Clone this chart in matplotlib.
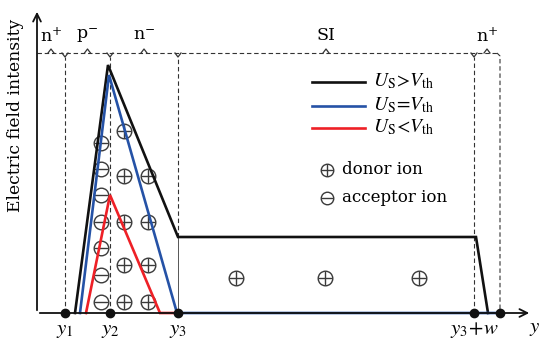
import matplotlib
matplotlib.use("Agg")
import matplotlib.pyplot as plt

plt.rcParams["font.family"] = ["DejaVu Serif"]
plt.rcParams["mathtext.fontset"] = "dejavuserif"

# Region boundaries along the device (arbitrary length units)
pos_y1, pos_y2, pos_y3, pos_y3w, pos_end = 28, 73, 141, 437, 463
tick_positions = [pos_y1, pos_y2, pos_y3, pos_y3w]
tick_labels = [r"$y_1$", r"$y_2$", r"$y_3$", r"$y_3\!+\!w$"]

# Electric field profiles (position, field)
above_x = [38, 71, 141, 439, 451]
above_e = [0, 248, 76, 76, 0]
equal_x = [43, 72, 140, 463]
equal_e = [0, 238, 0, 0]
below_x = [49, 73, 123, 141]
below_e = [0, 118, 0, 0]

# Region labels
region_names = [r"n$^{+}$", r"p$^{-}$", r"n$^{-}$", "SI", r"n$^{+}$"]
region_bounds = [0, pos_y1, pos_y2, pos_y3, pos_y3w, pos_end]

# Ion locations
acceptor_x = [64] * 7
acceptor_e = [170, 144, 118, 91, 65, 38, 11]
donor_x = [87, 87, 87, 87, 87, 111, 111, 111, 111, 199, 288, 382]
donor_e = [182, 137, 91, 48, 11, 137, 91, 48, 11, 35, 35, 35]

legend_labels = [r"$U_{\mathrm{S}}\!>\!V_{\mathrm{th}}$",
                 r"$U_{\mathrm{S}}\!=\!V_{\mathrm{th}}$",
                 r"$U_{\mathrm{S}}\!<\!V_{\mathrm{th}}$"]

BLACK = "#111111"
BLUE = "#2552a6"
RED = "#ee2026"
ION = "#3a3a3a"
DASH = "#333333"

fig = plt.figure(figsize=(5.41, 3.41), dpi=100)
ax = fig.add_axes([0, 0, 1, 1])
ax.set_xlim(-37, 504)
ax.set_ylim(-28, 313)
ax.axis("off")

brace_e = 260
dash_kw = dict(color=DASH, lw=0.8, ls=(0, (4, 2.5)))

# Dashed brace line and region boundaries
ax.plot([0, pos_end - 3], [brace_e, brace_e], **dash_kw)
ax.plot([pos_end - 3, pos_end, pos_end], [brace_e, brace_e - 3, 0], **dash_kw)
for xb in [pos_y1, pos_y2, pos_y3w]:
    ax.plot([xb, xb], [0, brace_e - 4], **dash_kw)
ax.plot([pos_y3, pos_y3], [76, brace_e - 4], **dash_kw)
ax.plot([pos_y3, pos_y3], [0, 76], color="#555555", lw=0.7)
for xb in [pos_y1, pos_y2, pos_y3, pos_y3w]:
    ax.plot([xb - 3, xb, xb + 3], [brace_e, brace_e - 4, brace_e], color=DASH, lw=0.9)
for i, name in enumerate(region_names):
    xm = (region_bounds[i] + region_bounds[i + 1]) / 2
    ax.plot([xm - 3, xm, xm + 3], [brace_e, brace_e + 4, brace_e], color=DASH, lw=0.9)
    ax.text(xm, brace_e + 17, name, ha="center", va="center", fontsize=12.5)

# Ions
def ion(x, e, sign, size=10.5):
    ax.plot(x, e, "o", ms=size, mfc="none", mec=ION, mew=1.0, ls="none")
    ax.plot(x, e, "_", ms=size, mec=ION, mew=1.0, ls="none")
    if sign > 0:
        ax.plot(x, e, "|", ms=size, mec=ION, mew=1.0, ls="none")

ion(acceptor_x, acceptor_e, -1)
ion(donor_x, donor_e, +1)

# Axes with arrows
ax.annotate("", xy=(0, 304), xytext=(0, 0),
            arrowprops=dict(arrowstyle="->", color=BLACK, lw=1.3, mutation_scale=14))
ax.annotate("", xy=(495, 0), xytext=(0, 0),
            arrowprops=dict(arrowstyle="->", color=BLACK, lw=1.3, mutation_scale=14))

# Field profiles
ax.plot(above_x, above_e, color=BLACK, lw=1.9, solid_joinstyle="miter")
ax.plot(equal_x, equal_e, color=BLUE, lw=1.9, solid_joinstyle="miter")
ax.plot(below_x, below_e, color=RED, lw=1.9, solid_joinstyle="miter")

# Boundary markers and labels
ax.plot(tick_positions + [pos_end], [0] * 5, "o", color=BLACK, ms=6, zorder=5)
for xp, lab in zip(tick_positions, tick_labels):
    ax.text(xp, -17, lab, ha="center", va="center", fontsize=15,
            math_fontfamily="stix")
ax.text(498, -16, r"$y$", ha="center", va="center", fontsize=15,
        math_fontfamily="stix")

ax.text(-21, 198, "Electric field intensity", rotation=90,
        ha="center", va="center", fontsize=12.3)

# Legend
for le, col, lab in zip([231, 207, 185], [BLACK, BLUE, RED], legend_labels):
    ax.plot([275, 328], [le, le], color=col, lw=1.9)
    ax.text(336, le + 1, lab, ha="left", va="center", fontsize=14,
            math_fontfamily="stix")
ion([290], [143], +1, size=9)
ax.text(305, 143, "donor ion", ha="left", va="center", fontsize=12)
ion([290], [115], -1, size=9)
ax.text(305, 115, "acceptor ion", ha="left", va="center", fontsize=12)

fig.savefig("out.png", dpi=100)
